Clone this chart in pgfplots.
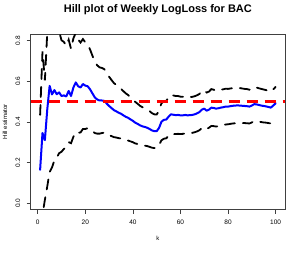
\documentclass[border=0pt]{standalone}
\usepackage{fontspec}
\setmainfont{Liberation Sans}
\usepackage{pgfplots}
\usepackage{pgfplotstable}
\pgfplotsset{compat=1.18}
\pgfplotstableread{
k h lo hi
1 0.164 -0.106 0.434
2 0.345 -0.056 0.746
3 0.310 0.016 0.604
4 0.460 0.082 0.838
5 0.577 0.153 1.002
6 0.535 0.176 0.894
7 0.556 0.210 0.902
8 0.536 0.224 0.848
9 0.545 0.246 0.844
10 0.527 0.253 0.801
11 0.530 0.267 0.793
12 0.525 0.276 0.774
13 0.552 0.300 0.804
14 0.527 0.295 0.759
15 0.569 0.327 0.811
16 0.594 0.350 0.838
17 0.575 0.346 0.804
18 0.569 0.348 0.790
19 0.586 0.365 0.807
20 0.578 0.365 0.791
21 0.575 0.369 0.781
22 0.560 0.364 0.756
23 0.540 0.355 0.725
24 0.520 0.345 0.695
25 0.510 0.342 0.678
26 0.505 0.342 0.668
27 0.505 0.345 0.665
28 0.503 0.347 0.659
29 0.490 0.340 0.640
30 0.478 0.335 0.622
31 0.468 0.330 0.606
32 0.458 0.325 0.591
33 0.452 0.323 0.582
34 0.445 0.320 0.571
35 0.440 0.318 0.562
36 0.432 0.314 0.551
37 0.425 0.310 0.540
38 0.420 0.308 0.532
39 0.412 0.304 0.521
40 0.405 0.300 0.510
41 0.396 0.294 0.498
42 0.390 0.291 0.489
43 0.383 0.287 0.479
44 0.378 0.284 0.472
45 0.375 0.283 0.467
46 0.371 0.281 0.461
47 0.365 0.277 0.453
48 0.358 0.273 0.443
49 0.354 0.271 0.437
50 0.354 0.272 0.436
51 0.370 0.285 0.455
52 0.400 0.309 0.491
53 0.410 0.317 0.503
54 0.411 0.319 0.503
55 0.425 0.331 0.519
56 0.437 0.341 0.533
57 0.435 0.340 0.530
58 0.433 0.340 0.527
59 0.434 0.341 0.527
60 0.432 0.340 0.524
61 0.432 0.341 0.523
62 0.434 0.343 0.525
63 0.432 0.343 0.522
64 0.433 0.344 0.522
65 0.434 0.346 0.523
66 0.437 0.349 0.526
67 0.442 0.353 0.531
68 0.448 0.359 0.537
69 0.460 0.369 0.551
70 0.465 0.374 0.556
71 0.455 0.366 0.544
72 0.460 0.371 0.549
73 0.470 0.380 0.561
74 0.468 0.379 0.558
75 0.465 0.377 0.553
76 0.467 0.379 0.555
77 0.470 0.382 0.558
78 0.472 0.384 0.560
79 0.475 0.387 0.563
80 0.475 0.388 0.562
81 0.477 0.390 0.564
82 0.479 0.392 0.566
83 0.480 0.393 0.567
84 0.481 0.395 0.567
85 0.480 0.394 0.566
86 0.479 0.394 0.564
87 0.478 0.394 0.562
88 0.477 0.393 0.561
89 0.475 0.392 0.558
90 0.480 0.397 0.563
91 0.487 0.403 0.571
92 0.486 0.403 0.569
93 0.483 0.401 0.565
94 0.480 0.399 0.562
95 0.478 0.397 0.559
96 0.476 0.396 0.556
97 0.473 0.394 0.552
98 0.470 0.392 0.548
99 0.480 0.401 0.559
100 0.491 0.410 0.572
}\hill
\begin{document}
\begin{tikzpicture}
\begin{axis}[
  scale only axis,
  width=254.3pt, height=175.7pt,
  xmin=-2.96, xmax=103.96,
  ymin=-0.032, ymax=0.832,
  axis line style={black!75, line width=0.6pt},
  xtick={0,20,40,60,80,100},
  ytick={0,0.2,0.4,0.6,0.8},
  xtick pos=left, ytick pos=left,
  tick align=outside,
  major tick length=4pt,
  ticklabel shift=3pt,
  tick style={black!75, line width=0.6pt},
  /pgf/number format/assume math mode=true,
  yticklabel style={/pgf/number format/.cd, fixed, fixed zerofill, precision=1, /tikz/.cd, rotate=90, anchor=south, font=\fontsize{6.5}{7}\selectfont},
  xticklabel style={font=\fontsize{6.5}{7}\selectfont},
  title={\bfseries Hill plot of Weekly LogLoss for BAC},
  title style={font=\fontsize{11}{13}\selectfont, at={(axis description cs:0.5,1.1025)}, anchor=center},
  xlabel={k},
  ylabel={Hill estimator},
  xlabel style={font=\fontsize{6}{7}\selectfont, at={(axis description cs:0.5,-0.165)}, anchor=center},
  ylabel style={font=\fontsize{6}{7}\selectfont, at={(axis description cs:-0.101,0.5)}, anchor=center},
  clip=true,
]
\addplot[black, line width=1.8pt, dash pattern=on 10pt off 8pt, line cap=round] table[x=k, y=hi] {\hill};
\addplot[black, line width=1.8pt, dash pattern=on 10pt off 8pt, line cap=round] table[x=k, y=lo] {\hill};
\addplot[blue, line width=2pt, line join=round, line cap=round] table[x=k, y=h] {\hill};
\addplot[red, line width=2.4pt, dash pattern=on 11pt off 7pt] coordinates {(-2.96,0.5) (103.96,0.5)};
\coordinate (bl) at (rel axis cs:-0.1207,-0.2464);
\coordinate (tr) at (rel axis cs:1.0629,1.1935);
\end{axis}
\pgfresetboundingbox
\path[use as bounding box] (bl) rectangle (tr);
\end{tikzpicture}
\end{document}
